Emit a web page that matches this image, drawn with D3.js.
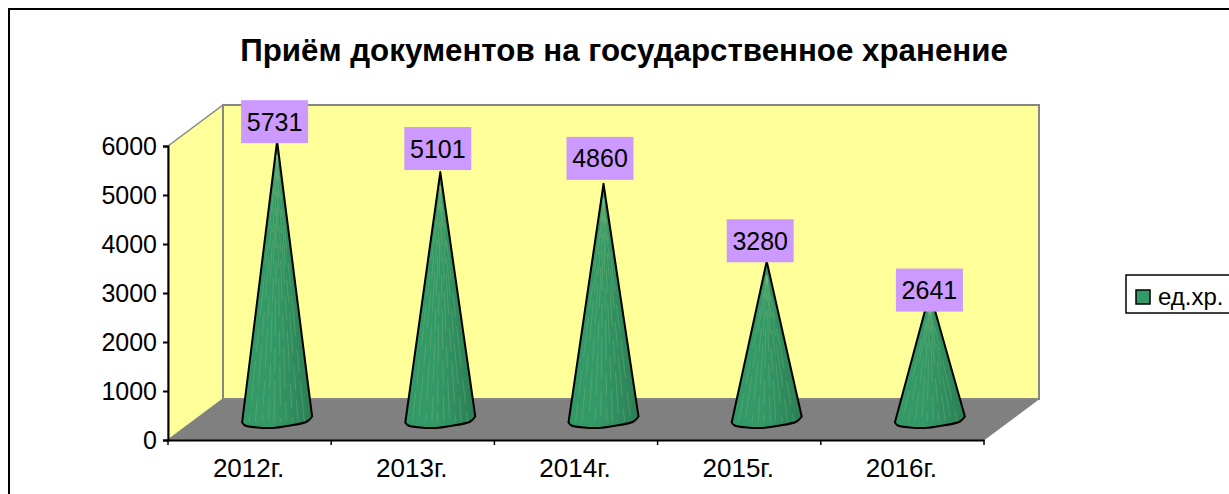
<!DOCTYPE html>
<html>
<head>
<meta charset="utf-8">
<script src="https://cdn.jsdelivr.net/npm/d3@7"></script>
<style>
  html, body { margin: 0; padding: 0; background: #fff; overflow: hidden; }
  text { font-family: "Liberation Sans", Arial, sans-serif; fill: #000; }
</style>
</head>
<body>
<svg id="chart" width="1229" height="494"></svg>
<script>
const categories = ['2012г.', '2013г.', '2014г.', '2015г.', '2016г.'];
const values = [5731, 5101, 4860, 3280, 2641];
const yTicks = [0, 1000, 2000, 3000, 4000, 5000, 6000];
const seriesName = 'ед.хр.';
const titleText = 'Приём документов на государственное хранение';

const svg = d3.select('#chart');

// outer frame runs off the right and bottom of the picture
svg.append('rect')
  .attr('x', 9).attr('y', 9)
  .attr('width', 1260).attr('height', 520)
  .attr('fill', '#fff').attr('stroke', '#000').attr('stroke-width', 2);

svg.append('text')
  .attr('x', 624).attr('y', 61)
  .attr('text-anchor', 'middle')
  .attr('font-size', 31.3).attr('font-weight', 'bold')
  .text(titleText);

// plot area, depth is the shift of the back wall
const margin = { left: 168, right: 984, top: 146, bottom: 440 };
const depth = { x: 55, y: -41 };

const x = d3.scaleBand().domain(categories).range([margin.left, margin.right]);
const y = d3.scaleLinear().domain([0, 6000]).range([margin.bottom, margin.top]);

const wallColor = '#ffff99';
const edgeColor = '#868686';

const poly = pts => 'M' + pts.join('L') + 'Z';

// left wall
svg.append('path')
  .attr('d', poly([
    [margin.left, margin.top],
    [margin.left + depth.x, margin.top + depth.y],
    [margin.left + depth.x, margin.bottom + depth.y],
    [margin.left, margin.bottom]
  ]))
  .attr('fill', wallColor).attr('stroke', edgeColor).attr('stroke-width', 1.5);

// back wall
svg.append('rect')
  .attr('x', margin.left + depth.x).attr('y', margin.top + depth.y)
  .attr('width', margin.right - margin.left)
  .attr('height', margin.bottom - margin.top)
  .attr('fill', wallColor).attr('stroke', edgeColor).attr('stroke-width', 2);

// floor
svg.append('path')
  .attr('d', poly([
    [margin.left, margin.bottom],
    [margin.left + depth.x, margin.bottom + depth.y],
    [margin.right + depth.x, margin.bottom + depth.y],
    [margin.right, margin.bottom]
  ]))
  .attr('fill', '#808080').attr('stroke', edgeColor).attr('stroke-width', 1);

// axes
const yAxis = d3.axisLeft(y).tickValues(yTicks).tickFormat(d3.format('d')).tickSize(5).tickPadding(6);
const yAxisGroup = svg.append('g').attr('transform', `translate(${margin.left},0)`).call(yAxis);
yAxisGroup.selectAll('text').attr('font-size', 25).attr('font-family', '"Liberation Sans", Arial, sans-serif');
yAxisGroup.selectAll('line, path').attr('stroke', '#000').attr('stroke-width', 2);

const xAxis = d3.axisBottom(x).tickSize(0).tickPadding(19);
const xAxisGroup = svg.append('g').attr('transform', `translate(-1,${margin.bottom})`).call(xAxis);
xAxisGroup.selectAll('text').attr('font-size', 26).attr('font-family', '"Liberation Sans", Arial, sans-serif');
xAxisGroup.select('.domain').attr('transform', 'translate(1,0)').attr('stroke', '#000').attr('stroke-width', 2);

// ticks sit between the categories
const edges = categories.map(c => x(c)).concat([margin.right]);
svg.append('g').selectAll('line').data(edges).enter().append('line')
  .attr('x1', d => d).attr('x2', d => d)
  .attr('y1', margin.bottom).attr('y2', margin.bottom + 5)
  .attr('stroke', '#000').attr('stroke-width', 1.5);

// cones
const defs = svg.append('defs');
const grad = defs.append('linearGradient').attr('id', 'coneFill');
[[0, '#339966'], [0.45, '#339966'], [1, '#2b7f55']].forEach(s => {
  grad.append('stop').attr('offset', s[0]).attr('stop-color', s[1]);
});

const coneRadius = 35;
const baseY = margin.bottom + depth.y / 2;
const apexShift = -18;

// base outline of the cone, tilted a little like the original
const baseCurve = d3.line().curve(d3.curveCatmullRom);
const basePoints = cx => [
  [cx - coneRadius, baseY + 3],
  [cx - 32, baseY + 6],
  [cx - 20, baseY + 8],
  [cx - 5, baseY + 8.5],
  [cx + 10, baseY + 6.5],
  [cx + 30, baseY + 2],
  [cx + coneRadius, baseY - 3]
];

const cones = svg.append('g').selectAll('g').data(values).enter().append('g');

const centerX = (d, i) => x(categories[i]) + x.bandwidth() / 2 + depth.x / 2;
const apexY = d => y(d) + apexShift;

cones.append('path')
  .attr('d', (d, i) => {
    const cx = centerX(d, i);
    return 'M' + cx + ',' + apexY(d) + 'L' + baseCurve(basePoints(cx)).slice(1) + 'Z';
  })
  .attr('fill', 'url(#coneFill)')
  .attr('stroke', '#000').attr('stroke-width', 2).attr('stroke-linejoin', 'round');

// faint facet streaks, each with its own dash phase so they do not band up
const facets = [-0.8, -0.62, -0.42, -0.24, -0.08, 0.1, 0.26, 0.44, 0.6, 0.78];
cones.each(function (d, i) {
  const cx = centerX(d, i);
  d3.select(this).selectAll('line').data(facets).enter().append('line')
    .attr('x1', cx).attr('y1', apexY(d) + 14)
    .attr('x2', f => cx + f * coneRadius).attr('y2', baseY + 2)
    .attr('stroke', '#8fbf7a').attr('stroke-width', 0.8)
    .attr('stroke-opacity', 0.4)
    .attr('stroke-dasharray', '24 9 41 13')
    .attr('stroke-dashoffset', (f, j) => j * 17);
});

// value labels, the boxes were moved by hand in the original so they do not all sit on the tip
const labelNudgeX = [0, 0, -1, -4, 2];
const labelNudgeY = [0, -4, -6, -1, 17];
const labelW = 67, labelH = 43;
cones.append('rect')
  .attr('x', (d, i) => centerX(d, i) - labelW / 2 - 2.5 + labelNudgeX[i])
  .attr('y', (d, i) => apexY(d) - labelH + 2 + labelNudgeY[i])
  .attr('width', labelW).attr('height', labelH)
  .attr('fill', '#cc99ff');
cones.append('text')
  .attr('x', (d, i) => centerX(d, i) - 2.5 + labelNudgeX[i])
  .attr('y', (d, i) => apexY(d) - 10.5 + labelNudgeY[i])
  .attr('text-anchor', 'middle')
  .attr('font-size', 25)
  .text(d => d);

// legend
const legend = svg.append('g');
legend.append('rect')
  .attr('x', 1126).attr('y', 275).attr('width', 130).attr('height', 38)
  .attr('fill', '#fff').attr('stroke', '#000').attr('stroke-width', 1.5);
legend.append('rect')
  .attr('x', 1136).attr('y', 290).attr('width', 14).attr('height', 14)
  .attr('fill', '#339966').attr('stroke', '#000').attr('stroke-width', 1.5);
legend.append('text')
  .attr('x', 1158).attr('y', 305)
  .attr('font-size', 24)
  .text(seriesName);
</script>
</body>
</html>
